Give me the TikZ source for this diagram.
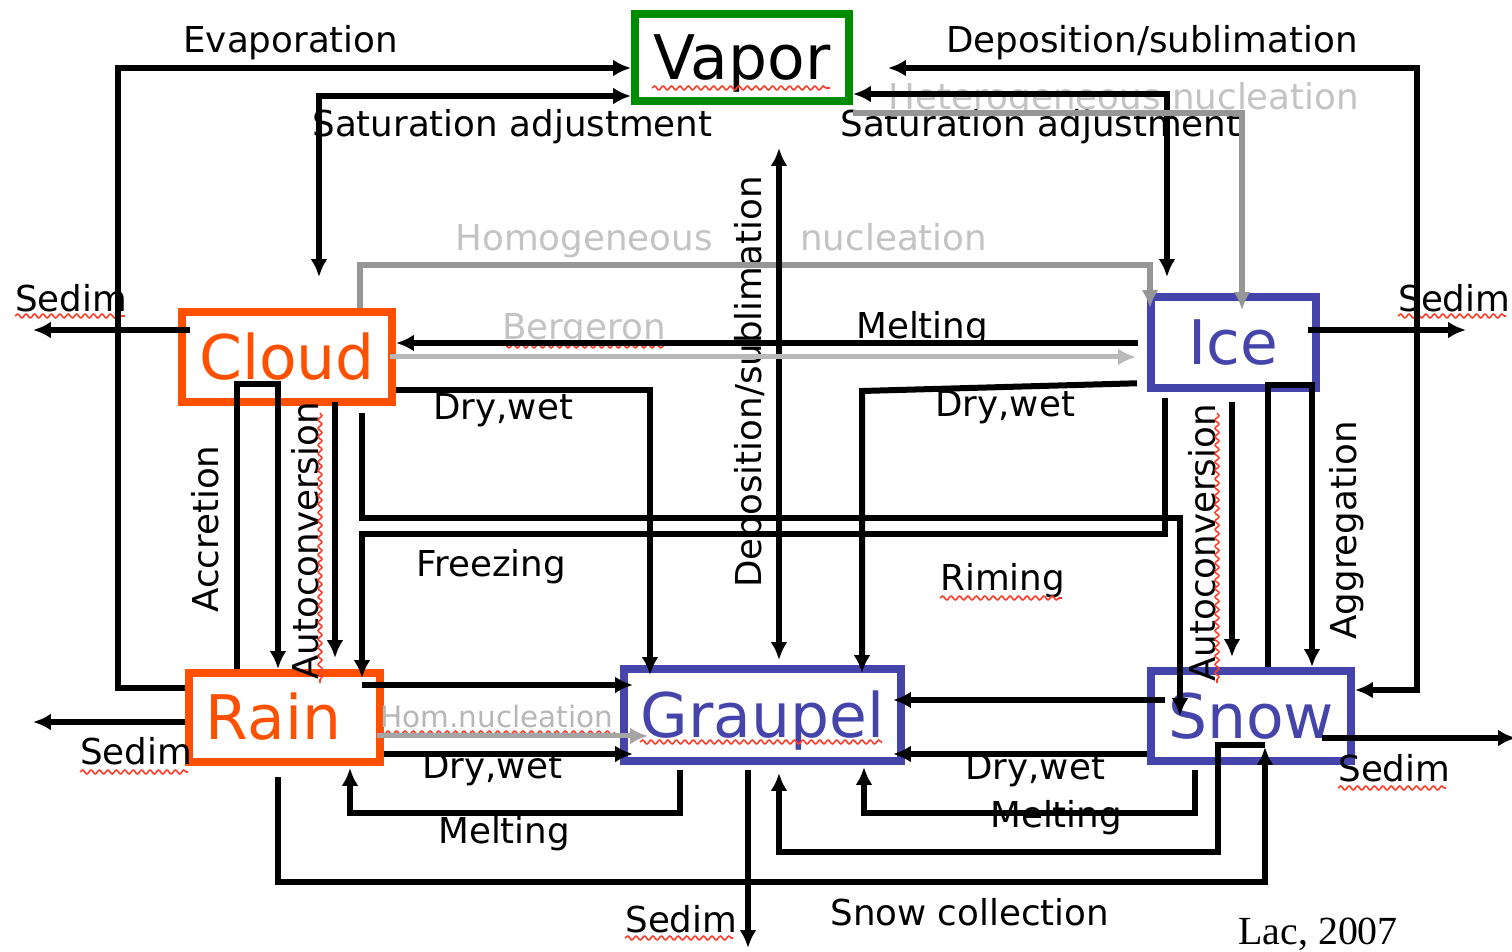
\documentclass[tikz,border=0pt]{standalone}
\usepackage{fontspec}
\setmainfont{DejaVu Sans}
\newfontfamily\lacfont{Liberation Serif}
\usetikzlibrary{arrows.meta,decorations.pathmorphing}
\newlength{\pu}\setlength{\pu}{0.02cm}
\definecolor{wred}{RGB}{255,80,0}
\definecolor{wblue}{RGB}{68,68,170}
\definecolor{wgreen}{RGB}{0,140,0}
\definecolor{gline}{RGB}{150,150,150}
\definecolor{gtext}{RGB}{195,195,195}
\definecolor{bline}{RGB}{185,185,185}
\definecolor{hline}{RGB}{165,165,165}
\definecolor{wavyred}{RGB}{255,60,40}
\begin{document}
\begin{tikzpicture}[x=0.02cm,y=-0.02cm,
  >={Latex[length=10.2pt,width=9.6pt]},
  box/.style={draw=#1, line width=8\pu, inner sep=0pt,
    font=\fontsize{35}{41}\selectfont, text height=25.5pt, text depth=0pt},
  lab/.style={anchor=base west, inner sep=0pt, font=\fontsize{20.3}{24}\selectfont},
  glab/.style={lab, text=gtext},
  slab/.style={anchor=base west, inner sep=0pt, text=hline!80!white,
    font=\fontsize{16.8}{20}\selectfont},
  ln/.style={draw=black, line width=6\pu},
  gln/.style={draw=gline, line width=5.5\pu},
  bln/.style={draw=bline, line width=5\pu},
  hln/.style={draw=hline, line width=5\pu},
  wavy/.style={draw=wavyred, line width=0.9pt, decorate,
    decoration={snake, amplitude=1.1pt, segment length=4.8pt}}]
\useasboundingbox (0,0) rectangle (1512,952);

% species boxes
\node[box=wgreen, text=black, minimum width=214\pu, minimum height=87\pu] (Vapor) at (742,57.5) {Vapor};
\node[box=wred, text=wred, minimum width=210\pu, minimum height=90\pu] (Cloud) at (287,357) {Cloud};
\node[box=wred, text=wred, minimum width=191\pu, minimum height=89\pu] (Rain) at (284.5,717.5) {\kern-22\pu Rain};
\node[box=wblue, text=wblue, minimum width=277\pu, minimum height=92\pu] (Graupel) at (762.5,715) {Graupel};
\node[box=wblue, text=wblue, minimum width=165\pu, minimum height=91\pu] (Ice) at (1233.5,342.5) {Ice};
\node[box=wblue, text=wblue, minimum width=200\pu, minimum height=90\pu] (Snow) at (1251,716) {Snow};

% process labels
\node[lab] (tEvap) at (183,53) {Evaporation};
\node[lab] (tDepT) at (946,53) {Deposition/sublimation};
\node[lab] (tSatL) at (312,137) {Saturation adjustment};
\node[lab] (tSatR) at (840,137) {Saturation adjustment};
\node[glab] (tHet) at (888,110) {Heterogeneous nucleation};
\node[glab] (tHom1) at (455,251) {Homogeneous};
\node[glab] (tHom2) at (800,251) {nucleation};
\node[lab] (tSedC) at (15,312) {Sedim};
\node[lab] (tSedI) at (1398,312) {Sedim};
\node[glab] (tBerg) at (502,340) {Bergeron};
\node[lab] (tMeltI) at (856,339) {Melting};
\node[lab] (tDryC) at (433,420) {Dry,wet};
\node[lab] (tDryI) at (935,417) {Dry,wet};
\node[lab] (tFrz) at (416,577) {Freezing};
\node[lab] (tRim) at (940,591) {Riming};
\node[lab, rotate=90] (tAcc) at (218,613) {Accretion};
\node[lab, rotate=90] (tAutC) at (318,680) {Autoconversion};
\node[lab, rotate=90] (tDepV) at (761,588) {Deposition/sublimation};
\node[lab, rotate=90] (tAutI) at (1215,682) {Autoconversion};
\node[lab, rotate=90] (tAgg) at (1356,640) {Aggregation};
\node[slab] (tHomN) at (380,727) {Hom.nucleation};
\node[lab] (tDryR) at (422,778) {Dry,wet};
\node[lab] (tMeltG) at (438,843) {Melting};
\node[lab] (tSedR) at (80,765) {Sedim};
\node[lab] (tSedG) at (625,932) {Sedim};
\node[lab] (tSnowC) at (830,925) {Snow collection};
\node[lab] (tDryS) at (965,780) {Dry,wet};
\node[lab] (tMeltS) at (990,827) {Melting};
\node[lab] (tSedS) at (1338,782) {Sedim};
\node[lab, font=\lacfont\fontsize{22.7}{27}\selectfont] (tLac) at (1238,944) {Lac, 2007};

% spell-check squiggles
\draw[wavy] (652,88) -- (830,88);
\draw[wavy] (15,316) -- (125,316);
\draw[wavy] (1398,316) -- (1506,316);
\draw[wavy] (502,346) -- (664,346);
\draw[wavy] (320,413) -- (320,683);
\draw[wavy] (1217,413) -- (1217,683);
\draw[wavy] (940,598) -- (1062,598);
\draw[wavy] (377,733) -- (615,733);
\draw[wavy] (640,742) -- (882,742);
\draw[wavy] (80,772) -- (188,772);
\draw[wavy] (625,938) -- (733,938);
\draw[wavy] (1338,788) -- (1446,788);

% free ends
\coordinate (satL) at (319,277);
\coordinate (satR) at (1167,277);
\coordinate (depT) at (888,68);
\coordinate (depV) at (779,148);
\coordinate (frz) at (362,685);
\coordinate (scol) at (1265,745);
\coordinate (sedS) at (1516,738);
\coordinate (sedG) at (748,948);
\coordinate (sedR) at (33,722);
\coordinate (sedC) at (33,330);
\coordinate (sedI) at (1466,330);

% vapour exchanges
\draw[ln,->] (Rain.west |- 0,688) -- (118,688) -- (118,68) -- (Vapor.west |- 0,68);
\draw[ln,<->] (satL) -- (319,96) -- (Vapor.west |- 0,96);
\draw[ln,<->] (depT) -- (1417,68) -- (1417,690) -- (Snow.east |- 0,690);
\draw[ln,<->] (Vapor.east |- 0,94) -- (1167,94) -- (satR);
\draw[gln,->,shorten >=-17\pu] (Vapor.east |- 0,113) -- (1242,113) -- (Ice.north -| 1242,0);
\draw[gln,->,shorten >=-15\pu] (Cloud.north -| 360,0) -- (360,265) -- (1150,265) -- (Ice.north -| 1150,0);
\draw[ln,<->,shorten >=5\pu] (depV) -- (Graupel.north -| 779,0);

% cloud and ice
\draw[ln,->,shorten <=9\pu] (Ice.west |- 0,343) -- (Cloud.east |- 0,343);
\draw[bln,->,shorten <=-6\pu,shorten >=11\pu] (Cloud.east |- 0,357) -- (Ice.west |- 0,357);
\draw[ln,->,shorten >=-10\pu] (Cloud.east |- 0,390) -- (650,390) -- (Graupel.north -| 650,0);
\draw[ln,->,shorten <=10\pu,shorten >=-8\pu] (Ice.west |- 0,383) -- (862,391) -- (Graupel.north -| 862,0);
\draw[ln,->] (Rain.north -| 237,0) -- (237,384) -- (278,384) -- (Rain.north -| 278,0);
\draw[ln,->,shorten <=-4\pu,shorten >=11\pu] (Cloud.south -| 335,0) -- (Rain.north -| 335,0);
\draw[ln,->,shorten <=7\pu] (Cloud.south -| 362,0) -- (362,518) -- (1180,518) -- (Snow.center -| 1180,0);
\draw[ln,->,shorten <=6\pu,shorten >=-9\pu] (Ice.south -| 1165,0) -- (1165,534) -- (362,534) -- (Rain.north -| 362,0);
\draw[ln,->,shorten >=-13\pu] (frz) -- (Graupel.west |- 0,685);
\draw[ln,->,shorten <=10\pu,shorten >=10\pu] (Ice.south -| 1232,0) -- (Snow.north -| 1232,0);
\draw[ln,->] (Snow.north -| 1268,0) -- (1268,385) -- (1312,385) -- (Snow.north -| 1312,0);

% rain, graupel and snow
\draw[hln,->,shorten <=-7\pu,shorten >=-28\pu] (Rain.east |- 0,736) -- (Graupel.west |- 0,736);
\draw[ln,->,shorten >=-13\pu] (Rain.east |- 0,754) -- (Graupel.west |- 0,754);
\draw[ln,->,shorten <=5\pu,shorten >=2\pu] (Graupel.south -| 680,0) -- (680,813) -- (350,813) -- (Rain.south -| 350,0);
\draw[ln,->,shorten <=11\pu,shorten >=-18\pu] (Rain.south -| 278,0) -- (278,882) -- (1265,882) -- (Snow.south -| 1265,0);
\draw[ln,->,shorten >=8\pu] (scol) -- (1218,745) -- (1218,852) -- (779,852) -- (Graupel.south -| 779,0);
\draw[ln,->,shorten <=-18\pu,shorten >=-12\pu] (Snow.west |- 0,700) -- (Graupel.east |- 0,700);
\draw[ln,->,shorten >=-12\pu] (Snow.west |- 0,754) -- (Graupel.east |- 0,754);
\draw[ln,->,shorten <=5\pu,shorten >=2\pu] (Snow.south -| 1195,0) -- (1195,813) -- (864,813) -- (Graupel.south -| 864,0);

% sedimentation
\draw[ln,->,shorten <=-33\pu] (Snow.east |- 0,738) -- (sedS);
\draw[ln,->,shorten <=5\pu] (Graupel.south -| 748,0) -- (sedG);
\draw[ln,->] (Rain.west |- 0,722) -- (sedR);
\draw[ln,->,shorten <=-12\pu] (Cloud.west |- 0,330) -- (sedC);
\draw[ln,->,shorten <=-12\pu] (Ice.east |- 0,330) -- (sedI);
\end{tikzpicture}
\end{document}
